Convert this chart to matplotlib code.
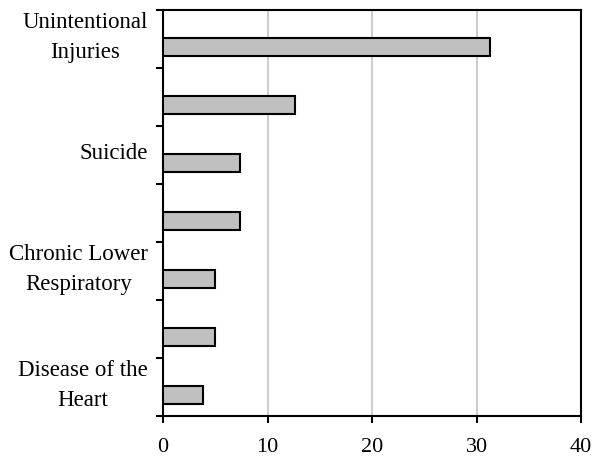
import matplotlib.pyplot as plt
import numpy as np

# category labels (Excel only printed every other one)
labels = ["Unintentional\nInjuries", "", "Suicide", "", "Chronic Lower\nRespiratory", "", "Disease of the\nHeart"]
values = [31.3, 12.6, 7.4, 7.4, 4.95, 4.95, 3.8]
xticks = [0, 10, 20, 30, 40]


def plot():
    plt.rcParams['font.family'] = ['Liberation Serif', 'DejaVu Serif']
    fig = plt.figure(figsize=(5.93, 4.57), dpi=100)
    ax = fig.add_axes([0.2749, 0.0897, 0.7049, 0.8883])

    pos = np.arange(len(values))
    ax.barh(pos + 0.14, values, height=0.32, color='#c0c0c0', edgecolor='black',
            linewidth=1.5, zorder=3)

    ax.set_xlim(0, 40)
    ax.set_ylim(len(values) - 0.5, -0.5)
    ax.set_xticks(xticks)
    ax.set_xticklabels([str(t) for t in xticks], fontsize=16)
    ax.xaxis.grid(True, color='#c8c8c8', linewidth=1.3, zorder=0)

    # tick marks between categories, labels at category centres
    ax.set_yticks(np.arange(-0.5, len(values), 1.0))
    ax.set_yticklabels([])
    # two-line labels sit a little higher, like in Excel
    lab_pos = [p - 0.07 - 0.08 * l.count('\n') for p, l in zip(pos, labels)]
    ax.set_yticks(lab_pos, minor=True)
    ax.set_yticklabels(labels, minor=True, fontsize=16.5, multialignment='center',
                       linespacing=1.55)
    ax.tick_params(axis='y', which='minor', length=0, pad=11)
    ax.tick_params(axis='y', which='major', length=5, width=1.5, direction='out')
    ax.tick_params(axis='x', length=5, width=1.5, direction='out', pad=11)

    for s in ax.spines.values():
        s.set_linewidth(1.5)

    plt.savefig('out.png', dpi=100)


if __name__ == '__main__':
    plot()
